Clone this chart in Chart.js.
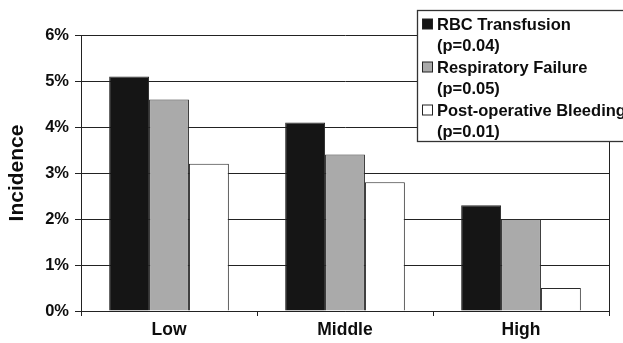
<!DOCTYPE html>
<html>
<head>
<meta charset="utf-8">
<script src="https://cdn.jsdelivr.net/npm/chart.js@4.4.1/dist/chart.umd.min.js"></script>
<style>
  html, body { margin: 0; padding: 0; background: #ffffff; }
  #wrap { width: 623px; height: 343px; }
</style>
</head>
<body>
<div id="wrap"><canvas id="c" width="623" height="343"></canvas></div>
<script>
// Risk groups and incidence (%) of each complication
const categories = ['Low', 'Middle', 'High'];
const rbcTransfusion = [5.1, 4.1, 2.3];
const respiratoryFailure = [4.6, 3.4, 2.0];
const postopBleeding = [3.2, 2.8, 0.5];
const seriesNames = ['RBC Transfusion', 'Respiratory Failure', 'Post-operative Bleeding'];
const seriesPValues = ['(p=0.04)', '(p=0.05)', '(p=0.01)'];
const yTicks = [0, 1, 2, 3, 4, 5, 6];
const yTitle = 'Incidence';

const FONT = '"Liberation Sans", Arial, Helvetica, sans-serif';
const fills = ['#151515', '#aaaaaa', '#ffffff'];

// Plot frame on the right side plus a boxed two-line legend over the plot
const framePlugin = {
  id: 'frame',
  afterDatasetsDraw(chart) {
    const { ctx, chartArea: a } = chart;
    ctx.save();
    ctx.strokeStyle = '#222';
    ctx.lineWidth = 1;
    ctx.beginPath();
    ctx.moveTo(Math.round(a.right) + 0.5, a.top);
    ctx.lineTo(Math.round(a.right) + 0.5, a.bottom);
    ctx.stroke();
    ctx.restore();
  },
  afterDraw(chart) {
    const { ctx } = chart;
    const box = { x: 417.5, y: 10.5, w: 220, h: 131 };
    ctx.save();
    ctx.fillStyle = '#ffffff';
    ctx.fillRect(box.x, box.y, box.w, box.h);
    ctx.strokeStyle = '#333';
    ctx.lineWidth = 1.3;
    ctx.strokeRect(box.x, box.y, box.w, box.h);
    ctx.font = 'bold 16.5px ' + FONT;
    ctx.textBaseline = 'alphabetic';
    ctx.textAlign = 'left';
    chart.data.datasets.forEach((ds, i) => {
      const base = 30 + i * 43;
      ctx.fillStyle = ds.backgroundColor;
      ctx.fillRect(422.5, base - 11, 10, 10);
      ctx.lineWidth = 1;
      ctx.strokeStyle = '#222';
      ctx.strokeRect(422.5, base - 11, 10, 10);
      ctx.fillStyle = '#0d0d0d';
      ctx.fillText(ds.label, 437, base);
      ctx.fillText(seriesPValues[i], 437, base + 21);
    });
    ctx.restore();
  }
};

const datasets = [rbcTransfusion, respiratoryFailure, postopBleeding].map((vals, i) => ({
  label: seriesNames[i],
  data: vals,
  backgroundColor: fills[i],
  borderColor: '#2a2a2a',
  borderWidth: 1,
  borderSkipped: 'bottom',
  barPercentage: 1.0,
  categoryPercentage: 0.68
}));

new Chart(document.getElementById('c'), {
  type: 'bar',
  data: { labels: categories, datasets },
  options: {
    responsive: false,
    animation: false,
    devicePixelRatio: 1,
    layout: { padding: { top: 35, right: 14, left: 0, bottom: 0 } },
    plugins: { legend: { display: false }, tooltip: { enabled: false } },
    scales: {
      x: {
        offset: true,
        grid: {
          offset: true,
          drawOnChartArea: false,
          drawTicks: true,
          tickLength: 5,
          tickColor: '#222'
        },
        border: { display: true, color: '#222', width: 1 },
        ticks: {
          color: '#0d0d0d',
          font: { family: FONT, size: 17.5, weight: 'bold' },
          padding: 4
        },
        afterFit(scale) { scale.height = 32; }
      },
      y: {
        min: 0,
        max: 6,
        afterBuildTicks(scale) { scale.ticks = yTicks.map(v => ({ value: v })); },
        grid: {
          color: '#222',
          lineWidth: 1,
          drawTicks: true,
          tickLength: 6,
          tickColor: '#222'
        },
        border: { display: true, color: '#222', width: 1 },
        ticks: {
          color: '#0d0d0d',
          padding: 6,
          font: { family: FONT, size: 16.5, weight: 'bold' },
          callback: v => v + '%'
        },
        title: {
          display: true,
          text: yTitle,
          color: '#0d0d0d',
          font: { family: FONT, size: 21, weight: 'bold' },
          padding: { top: 5, bottom: 4 }
        },
        afterFit(scale) { scale.width = 81; }
      }
    }
  },
  plugins: [framePlugin]
});
</script>
</body>
</html>
